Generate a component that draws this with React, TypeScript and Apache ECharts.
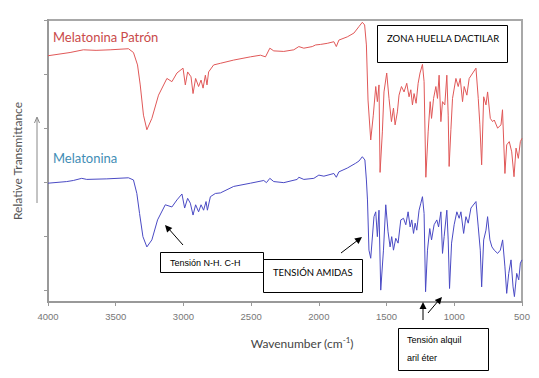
import React, { useEffect, useRef } from "react";
import * as echarts from "echarts";

// Wavenumber (cm-1) and relative transmittance readings
const patronWavenumbers = [4000,3837,3739,3645,3541,3406,3369,3339,3319,3295,3270,3233,3184,3122,3085,3048,3003,2986,2969,2944,2929,2910,2888,2870,2855,2838,2826,2814,2777,2727,2629,2505,2431,2394,2362,2333,2259,2185,2148,2111,2049,2024,1987,1938,1889,1871,1852,1790,1741,1704,1679,1662,1649,1637,1617,1598,1580,1568,1556,1548,1531,1519,1499,1482,1464,1449,1437,1420,1408,1390,1371,1351,1334,1321,1309,1297,1282,1267,1253,1235,1223,1210,1193,1178,1168,1153,1136,1124,1112,1099,1087,1070,1055,1045,1038,1025,1013,988,971,956,939,927,907,890,840,823,811,798,783,766,754,734,717,705,680,655,644,626,613,594,576,559,544,527,512,500];
const patronValues = [4.56,4.62,4.67,4.66,4.67,4.69,4.62,4.39,4.02,3.46,3.19,3.40,3.83,4.14,4.08,4.24,4.33,4.02,4.26,4.17,3.86,4.14,3.99,4.11,3.96,4.20,4.02,4.26,4.39,4.42,4.48,4.54,4.57,4.54,4.70,4.65,4.64,4.67,4.73,4.70,4.73,4.76,4.77,4.79,4.82,4.73,4.85,4.91,4.98,5.10,5.18,5.13,4.76,3.74,3.00,3.46,3.99,3.71,4.02,2.40,3.15,3.89,4.24,3.77,3.34,3.59,3.28,3.52,3.83,3.99,3.89,4.05,3.80,3.93,3.65,3.86,3.68,4.05,4.24,4.40,4.08,2.31,3.15,3.71,3.40,3.77,3.99,3.77,4.20,3.34,3.71,3.65,4.20,3.46,2.51,3.19,3.77,4.14,3.99,4.14,3.71,3.99,3.83,4.14,4.33,3.77,3.28,2.54,3.80,3.65,3.89,3.40,3.34,3.37,3.22,3.28,3.56,2.38,2.91,2.97,2.78,2.32,2.85,2.66,2.97,3.03];

const melatoninaWavenumbers = [4000,3862,3813,3751,3714,3566,3406,3369,3344,3324,3299,3270,3233,3191,3134,3085,3048,3011,2991,2969,2949,2929,2910,2888,2870,2851,2833,2823,2801,2764,2727,2629,2505,2407,2387,2362,2333,2259,2160,2148,2111,2037,2000,1963,1889,1871,1852,1790,1728,1704,1679,1660,1649,1641,1630,1617,1593,1580,1568,1556,1543,1523,1506,1489,1474,1462,1449,1432,1415,1395,1375,1358,1341,1326,1314,1301,1289,1277,1260,1247,1235,1223,1212,1198,1181,1168,1149,1129,1116,1099,1087,1075,1055,1045,1035,1020,1001,981,964,951,931,914,897,877,840,823,808,798,783,766,754,737,722,705,680,660,643,626,613,598,581,566,556,539,524,512,500];
const melatoninaValues = [2.20,2.23,2.25,2.29,2.27,2.28,2.30,2.26,2.01,1.64,1.21,1.02,1.15,1.52,1.80,1.76,1.89,2.00,1.74,1.92,1.83,1.61,1.80,1.67,1.80,1.70,1.86,1.70,1.95,2.01,2.02,2.14,2.20,2.25,2.21,2.29,2.23,2.21,2.27,2.31,2.27,2.29,2.35,2.33,2.38,2.31,2.41,2.48,2.57,2.61,2.69,2.63,2.26,1.89,0.96,0.81,1.58,1.67,1.21,1.70,0.22,0.96,1.80,1.30,1.02,1.21,0.96,1.18,1.09,1.52,1.55,1.43,1.67,1.39,1.52,1.27,1.46,1.33,1.70,1.83,1.95,1.64,0.19,0.96,1.36,1.15,1.43,1.52,1.39,1.67,0.90,1.21,1.70,1.15,0.25,1.09,1.43,1.67,1.55,1.67,1.27,1.58,1.46,1.74,1.86,1.39,0.96,0.28,1.15,1.33,1.58,1.15,1.02,0.96,0.90,0.96,1.15,0.65,0.16,0.53,0.78,0.28,0.10,0.53,0.41,0.72,0.78];

const yTickValues = [0.22, 1.22, 2.22, 3.22, 4.22, 5.22];
const seriesNames = ["Melatonina Patrón", "Melatonina"];

const annotationFont = "Lato, 'Open Sans', sans-serif";
const arialFont = "'Liberation Sans', Arial, sans-serif";

export default function App() {
  const ref = useRef<HTMLDivElement>(null);

  useEffect(() => {
    if (!ref.current) return;
    const chart = echarts.init(ref.current, null, { renderer: "svg" });
    const patron = patronWavenumbers.map((w, i) => [w, patronValues[i]]);
    const mel = melatoninaWavenumbers.map((w, i) => [w, melatoninaValues[i]]);

    const box = (x: number, y: number, w: number, h: number) => ({
      type: "rect",
      z: 100,
      shape: { x: x + 0.5, y: y + 0.5, width: w, height: h },
      style: { fill: "#fff", stroke: "#000", lineWidth: 1 },
    });
    const txt = (x: number, y: number, text: string, size: number, color = "#000", family = annotationFont) => ({
      type: "text",
      z: 101,
      x,
      y,
      style: { text, fill: color, fontSize: size, fontFamily: family, verticalAlign: "middle", align: "left" },
    });
    const line = (x1: number, y1: number, x2: number, y2: number, color = "#000", w = 1) => ({
      type: "line",
      z: 101,
      shape: { x1, y1, x2, y2 },
      style: { stroke: color, lineWidth: w },
    });
    const head = (pts: number[][]) => ({
      type: "polygon",
      z: 101,
      shape: { points: pts },
      style: { fill: "#000" },
    });

    chart.setOption({
      animation: false,
      grid: {
        left: 48,
        right: 17,
        top: 20,
        bottom: 76,
        show: true,
        borderColor: "#a8a8a8",
        borderWidth: 2,
      },
      xAxis: {
        type: "value",
        min: 500,
        max: 4000,
        interval: 500,
        inverse: true,
        axisLine: { onZero: false, lineStyle: { color: "#999", width: 2 } },
        axisTick: { show: true, length: 4, lineStyle: { color: "#999" } },
        axisLabel: { color: "#777", fontSize: 9.5, fontFamily: arialFont, margin: 9, formatter: (v: number) => String(v) },
        splitLine: { show: false },
      },
      yAxis: {
        type: "value",
        min: 0,
        max: 5.222,
        name: "Relative Transmittance",
        nameLocation: "middle",
        nameGap: 25,
        nameTextStyle: { color: "#555", fontSize: 12, fontFamily: annotationFont },
        axisLine: { show: true, onZero: false, lineStyle: { color: "#999", width: 2 } },
        axisTick: { show: true, length: 4, customValues: yTickValues, lineStyle: { color: "#999" } },
        axisLabel: { show: false },
        splitLine: { show: false },
      },
      series: [
        {
          name: seriesNames[0],
          type: "line",
          data: patron,
          showSymbol: false,
          lineStyle: { color: "#e05858", width: 1 },
          itemStyle: { color: "#e05858" },
        },
        {
          name: seriesNames[1],
          type: "line",
          data: mel,
          showSymbol: false,
          lineStyle: { color: "#4a4ac4", width: 1 },
          itemStyle: { color: "#4a4ac4" },
        },
      ],
      graphic: [
        txt(53, 37, seriesNames[0], 13, "#c94a4a"),
        txt(53, 158, seriesNames[1], 13, "#3f8db5"),
        {
          type: "text",
          z: 101,
          x: 302,
          y: 343,
          style: {
            text: "Wavenumber (cm{sup|-1})",
            fill: "#444",
            fontSize: 12,
            fontFamily: annotationFont,
            align: "center",
            verticalAlign: "middle",
            rich: { sup: { fontSize: 8, fill: "#444", fontFamily: annotationFont, padding: [0, 0, 6, 0] } },
          },
        },
        // Y-axis arrow
        line(37, 203, 37, 118, "#888", 1),
        { type: "polyline", z: 101, shape: { points: [[34.5, 123], [37, 117], [39.5, 123]] }, style: { stroke: "#888", lineWidth: 1, fill: null } },
        // Zona huella dactilar
        box(377, 25, 130, 37),
        txt(387, 38, "ZONA HUELLA DACTILAR", 9.5),
        // Tensión N-H
        line(183, 245, 168, 228),
        head([[165, 225], [172.3, 227.9], [167.1, 232.5]]),
        box(160, 252, 103, 20),
        txt(170, 263, "Tensión N-H. C-H", 9, "#000", arialFont),
        // Tensión amidas
        box(263, 259, 99, 33),
        txt(273, 272, "TENSIÓN AMIDAS", 9.5),
        line(341, 253, 358, 240),
        head([[362, 237], [358.5, 244], [354.3, 238.4]]),
        // Tensión alquil aril éter
        line(423, 320, 423, 306),
        head([[423, 302], [426.5, 309], [419.5, 309]]),
        line(428, 313, 439, 300),
        head([[442, 297], [440, 304.6], [434.8, 300]]),
        box(398, 328, 90, 42),
        txt(407, 340, "Tensión alquil", 9, "#000", arialFont),
        txt(407, 358, "aril éter", 9, "#000", arialFont),
      ],
    });
    return () => chart.dispose();
  }, []);

  return (
    <div
      ref={ref}
      style={{ position: "fixed", left: 0, top: 0, width: 539, height: 378, background: "#fff" }}
    />
  );
}
